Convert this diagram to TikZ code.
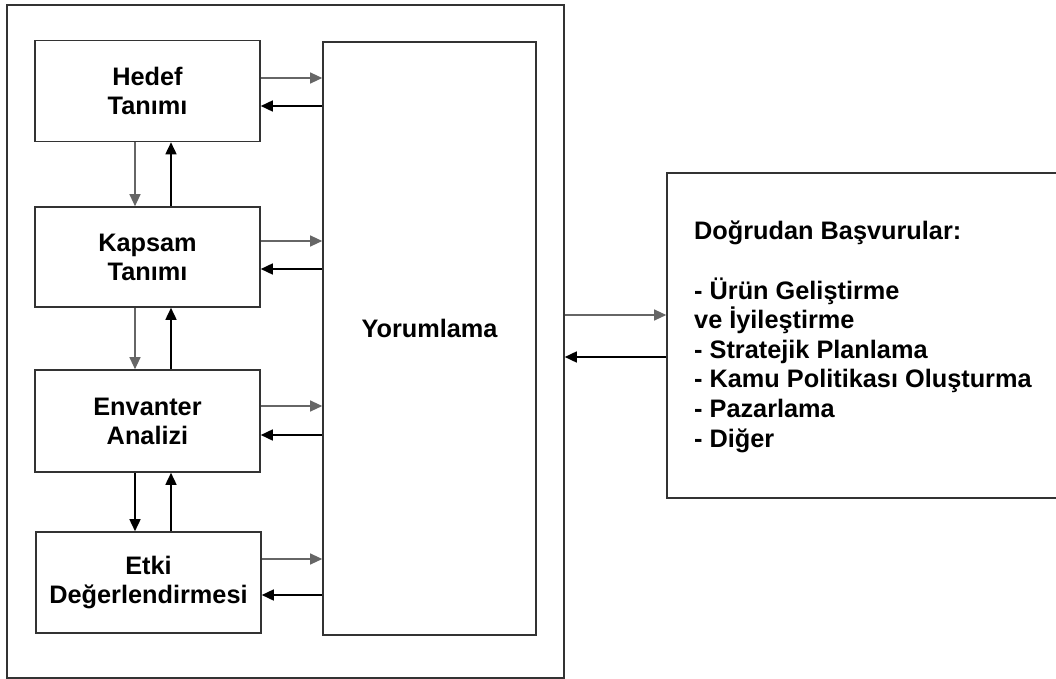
\documentclass[tikz,border=0pt]{standalone}
\usepackage{fontspec}
\setmainfont{Liberation Sans}
\usetikzlibrary{arrows.meta}
\begin{document}
\begin{tikzpicture}[x=1pt,y=-1pt,
  txt/.style={font=\fontsize{25.3}{29}\selectfont\bfseries},
  box/.style={draw=black!80,line width=1.6pt,inner sep=0pt,align=center,txt},
  thin/.style={draw=black!60,line width=1.1pt,-{Triangle[length=12pt,width=11pt]}},
  thick/.style={draw=black,line width=1.6pt,-{Triangle[length=12pt,width=11pt]}}]
\useasboundingbox (0,0) rectangle (1056,679);
\node[box,minimum width=557pt,minimum height=673pt] (outer) at (285.5,341.5) {};
\node[box,minimum width=225pt,minimum height=101pt] (hedef) at (147.5,91) {Hedef\\Tanımı};
\node[box,minimum width=225pt,minimum height=100pt] (kapsam) at (147.5,257) {Kapsam\\Tanımı};
\node[box,minimum width=225pt,minimum height=102pt] (envanter) at (147.5,421) {Envanter\\Analizi};
\node[box,minimum width=225pt,minimum height=101pt] (etki) at (148.5,582.5) {Etki\\Değerlendirmesi};
\node[box,minimum width=213pt,minimum height=593pt] (yor) at (429.5,338.5) {};
\node[txt,anchor=base] (yortext) at (429.5,337) {Yorumlama};
\node[box,minimum width=400pt,minimum height=325pt] (app) at (867,335.5) {};
\node[anchor=base west,align=left,inner sep=0pt,font=\fontsize{25.3}{29.6}\selectfont\bfseries] (apptext) at (694,447) {Doğrudan Başvurular:\\[29.6pt]- Ürün Geliştirme\\ve İyileştirme\\- Stratejik Planlama\\- Kamu Politikası Oluşturma\\- Pazarlama\\- Diğer};
% horizontal arrows
\foreach \b/\ya/\yb in {hedef/78/106,kapsam/241/269,envanter/406/435,etki/559/595}{
  \draw[thin] (\b.east |- 0,\ya) -- (yor.west |- 0,\ya);
  \draw[thick] (yor.west |- 0,\yb) -- (\b.east |- 0,\yb);
}
% vertical arrows
\draw[thin] (hedef.south -| 135,0) -- (kapsam.north -| 135,0);
\draw[thick] (kapsam.north -| 171,0) -- (hedef.south -| 171,0);
\draw[thin] (kapsam.south -| 135,0) -- (envanter.north -| 135,0);
\draw[thick] (envanter.north -| 171,0) -- (kapsam.south -| 171,0);
\draw[thick] (envanter.south -| 135,0) -- (etki.north -| 135,0);
\draw[thick] (etki.north -| 171,0) -- (envanter.south -| 171,0);
% outer to applications
\draw[thin] (outer.east |- 0,315) -- (app.west |- 0,315);
\draw[thick] (app.west |- 0,357) -- (outer.east |- 0,357);
\end{tikzpicture}
\end{document}
